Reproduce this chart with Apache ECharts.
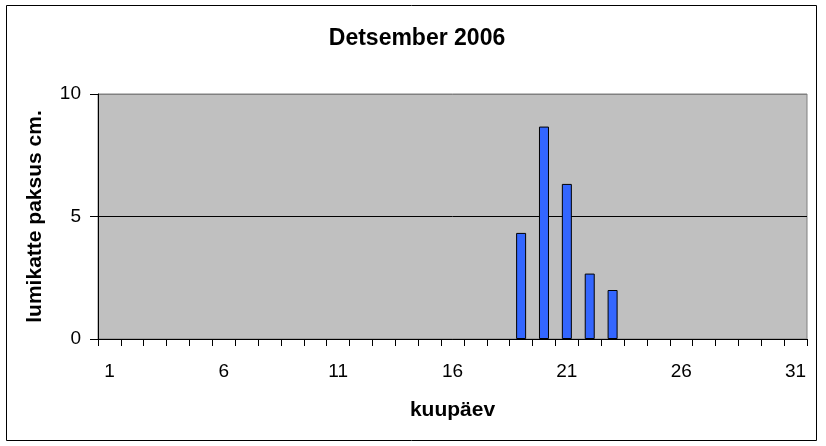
<!doctype html>
<html>
<head>
    <meta charset="utf-8">
    <title>Detsember 2006</title>
    <script src="https://cdn.jsdelivr.net/npm/echarts@6/dist/echarts.min.js"></script>
    <style>
        html, body { margin: 0; padding: 0; background: #fff; }
        #Chart { width: 826px; height: 446px; }
    </style>
</head>
<body>
    <div id="Chart"></div>
<script>
    // kuupäevad 1..31
    var days = [];
    for (var d = 1; d <= 31; d++) days.push(String(d));

    // lumikatte paksus (cm), ainult 19.-23. detsembril oli lund
    var snowDays = [19, 20, 21, 22, 23];
    var snowDepth = [4.33, 8.67, 6.33, 2.67, 2.0];

    var yTicks = [0, 5, 10];

    var values = days.map(function (d) {
        var i = snowDays.indexOf(Number(d));
        return i >= 0 ? snowDepth[i] : null;
    });

    var fontFamily = '"Liberation Sans", Arial, sans-serif';

    var myChart = echarts.init(document.getElementById('Chart'));
    var option = {
        animation: false,
        backgroundColor: '#ffffff',
        title: {
            text: 'Detsember 2006',
            left: 412,
            textAlign: 'center',
            top: 22,
            textStyle: { fontFamily: fontFamily, fontSize: 23, fontWeight: 'bold', color: '#000' }
        },
        graphic: [{
            type: 'rect',
            shape: { x: 6.5, y: 5.5, width: 810, height: 435 },
            style: { fill: null, stroke: '#000', lineWidth: 1 },
            silent: true
        }],
        grid: {
            left: 98, right: 19, top: 94, bottom: 107,
            show: true,
            backgroundColor: '#C0C0C0',
            borderColor: '#808080',
            borderWidth: 1
        },
        xAxis: {
            type: 'category',
            data: days,
            name: 'kuupäev',
            nameLocation: 'middle',
            nameGap: 61,
            nameTextStyle: { fontFamily: fontFamily, fontSize: 21, fontWeight: 'bold', color: '#000' },
            axisLine: { lineStyle: { color: '#000', width: 1 } },
            axisTick: { show: true, interval: 0, length: 7, lineStyle: { color: '#000' } },
            axisLabel: { interval: 4, margin: 23, fontFamily: fontFamily, fontSize: 19, color: '#000' },
            splitLine: { show: false }
        },
        yAxis: {
            type: 'value',
            min: yTicks[0],
            max: yTicks[yTicks.length - 1],
            interval: yTicks[1] - yTicks[0],
            name: 'lumikatte paksus cm.',
            nameLocation: 'middle',
            nameGap: 52,
            nameTextStyle: { fontFamily: fontFamily, fontSize: 21, fontWeight: 'bold', color: '#000' },
            axisLine: { show: true, lineStyle: { color: '#000', width: 1 } },
            axisTick: { show: true, length: 8, lineStyle: { color: '#000' } },
            axisLabel: { margin: 17, fontFamily: fontFamily, fontSize: 19, color: '#000' },
            splitLine: { show: true, lineStyle: { color: ['#000', '#000', '#808080'], width: 1 } }
        },
        series: [{
            name: 'lumikatte paksus',
            type: 'bar',
            data: values,
            barWidth: 10,
            itemStyle: { color: '#3366FF', borderColor: '#000', borderWidth: 1 }
        }]
    };
    myChart.setOption(option);
</script>
</body>
</html>
